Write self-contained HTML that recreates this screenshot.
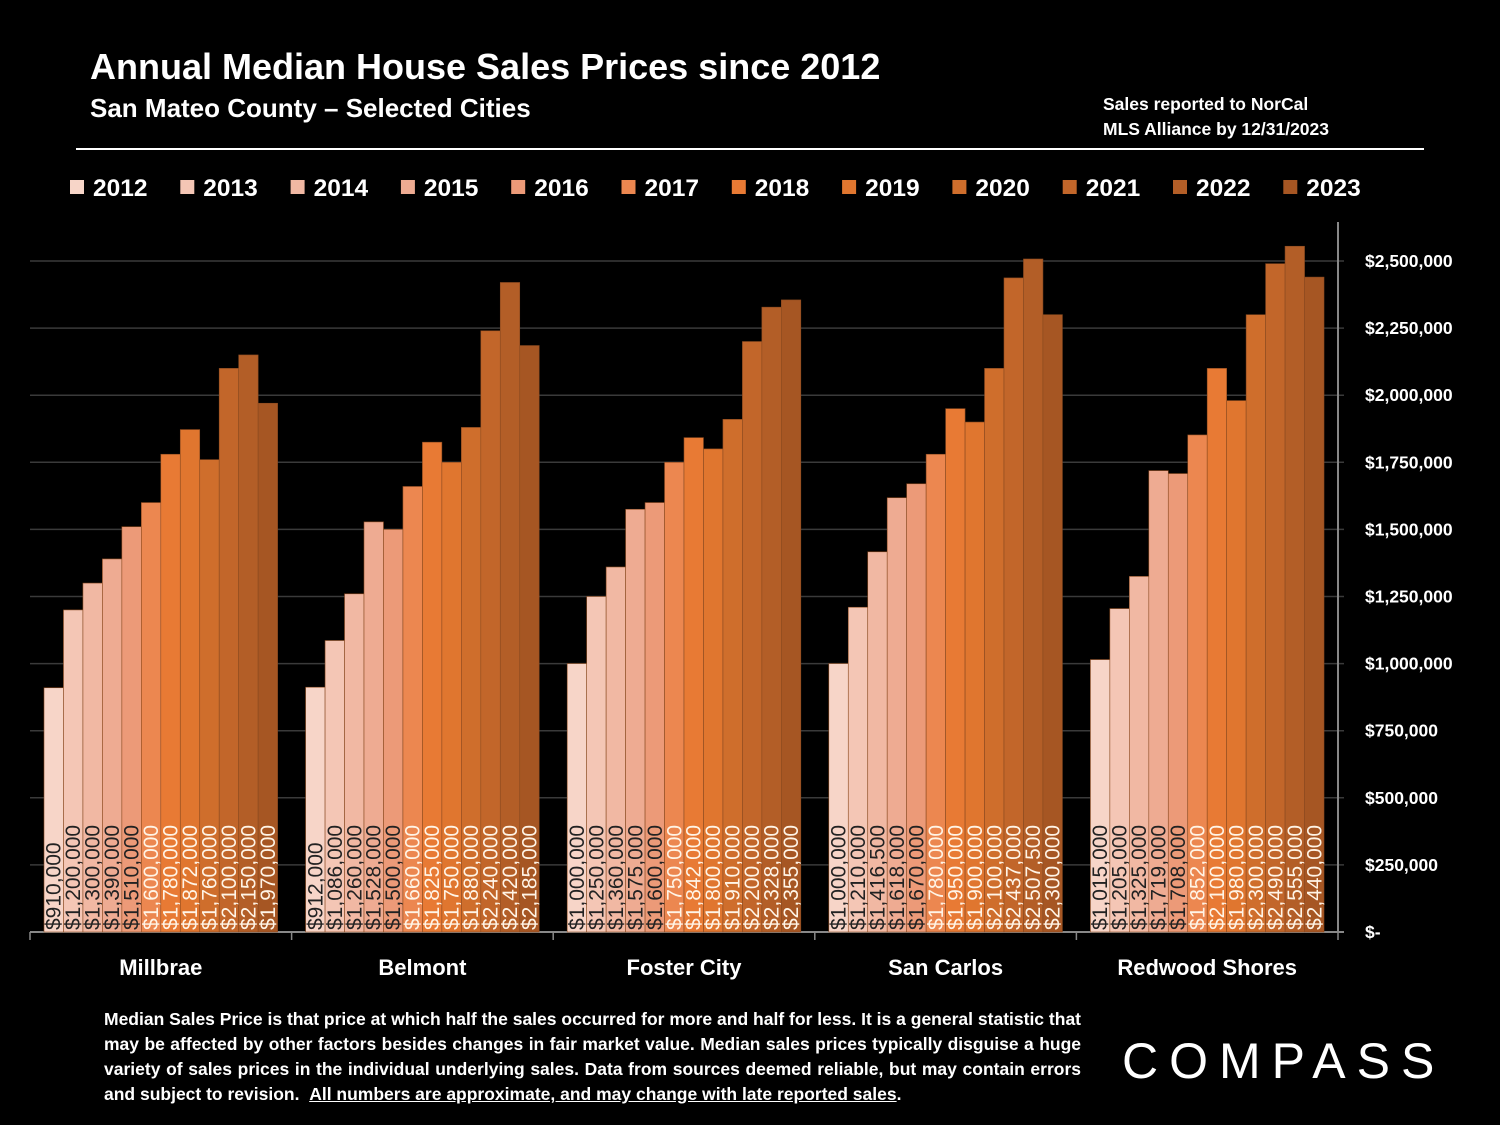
<!DOCTYPE html>
<html><head><meta charset="utf-8">
<style>
body{margin:0;background:#000;width:1500px;height:1125px;overflow:hidden;font-family:"Liberation Sans",sans-serif;color:#fff}
.t{position:absolute;font-weight:bold;white-space:nowrap}
</style></head><body>
<div class="t" style="left:90px;top:46px;font-size:36px">Annual Median House Sales Prices since 2012</div>
<div class="t" style="left:90px;top:93px;font-size:26px">San Mateo County – Selected Cities</div>
<div class="t" style="left:1103px;top:92px;font-size:17.5px;line-height:25px">Sales reported to NorCal<br>MLS Alliance by 12/31/2023</div>
<div style="position:absolute;left:76px;top:148px;width:1348px;height:2px;background:#fff"></div>
<div class="t" style="left:104px;top:1007px;width:977px;font-size:17.5px;line-height:25px;white-space:normal;text-align:justify">Median Sales Price is that price at which half the sales occurred for more and half for less. It is a general statistic that may be affected by other factors besides changes in fair market value. Median sales prices typically disguise a huge variety of sales prices in the individual underlying sales. Data from sources deemed reliable, but may contain errors and subject to revision. &nbsp;<u>All numbers are approximate, and may change with late reported sales</u>.</div>
<div class="t" style="left:1122px;top:1032px;font-size:50px;font-weight:normal;letter-spacing:11px">COMPASS</div>
<svg id="c" width="1500" height="1125" style="position:absolute;left:0;top:0"></svg>
<script>
const years=['2012','2013','2014','2015','2016','2017','2018','2019','2020','2021','2022','2023'];
const cities=['Millbrae','Belmont','Foster City','San Carlos','Redwood Shores'];
const millbrae=[910000,1200000,1300000,1390000,1510000,1600000,1780000,1872000,1760000,2100000,2150000,1970000];
const belmont=[912000,1086000,1260000,1528000,1500000,1660000,1825000,1750000,1880000,2240000,2420000,2185000];
const fosterCity=[1000000,1250000,1360000,1575000,1600000,1750000,1842000,1800000,1910000,2200000,2328000,2355000];
const sanCarlos=[1000000,1210000,1416500,1618000,1670000,1780000,1950000,1900000,2100000,2437000,2507500,2300000];
const redwoodShores=[1015000,1205000,1325000,1719000,1708000,1852000,2100000,1980000,2300000,2490000,2555000,2440000];
const yTicks=[0,250000,500000,750000,1000000,1250000,1500000,1750000,2000000,2250000,2500000];
const series=[millbrae,belmont,fosterCity,sanCarlos,redwoodShores];
const colors=['#f7d5c8','#f4c6b5','#f1b8a3','#eeab92','#ec9a78','#ec8750','#e87a34','#e0762f','#cf6e2c','#c2662a','#b35e27','#a65623'];
const svg=document.getElementById('c');const NS='http://www.w3.org/2000/svg';
const X0=30,X1=1338,Y0=932,Y1=261;
const y=v=>Y0-(v/2500000)*(Y0-Y1);
const gw=(X1-X0)/cities.length,pad=14,bw=(gw-2*pad)/years.length;
function el(t,a,p){const e=document.createElementNS(NS,t);for(const k in a)e.setAttribute(k,a[k]);(p||svg).appendChild(e);return e;}
yTicks.forEach(v=>{
 const g=el('line',{x1:X0,x2:X1+6,y1:y(v),y2:y(v),stroke:v?'#3a3a3a':'#888','stroke-width':v?1.5:2});
 
 
 const t=el('text',{x:1365,y:y(v)+6,fill:'#fff','font-size':17.5,'font-weight':'bold','font-family':'Liberation Sans'});
 t.textContent=v?'$'+v.toLocaleString('en-US'):'$-';
 
 
});
const ax=el('line',{x1:X1,x2:X1,y1:222,y2:Y0,stroke:'#888','stroke-width':2});


cities.forEach((c,ci)=>{
 const gx=X0+ci*gw;
 const tk=el('line',{x1:gx,x2:gx,y1:Y0,y2:940,stroke:'#888','stroke-width':1.5});
 
 
 series[ci].forEach((v,i)=>{
  const bx=gx+pad+i*bw;
  const r=el('rect',{x:bx,y:y(v),width:bw,height:Y0-y(v),fill:colors[i],stroke:'#8a4a20','stroke-width':0.6});
  
  
  const t=el('text',{x:0,y:0,fill:i<5?'#222':'#fff4e6','font-size':21,'font-family':'Liberation Sans',transform:`translate(${bx+bw/2+7},${Y0-2}) rotate(-90)`});
  t.textContent='$'+v.toLocaleString('en-US');
  
  
 });
 const l=el('text',{x:gx+gw/2,y:975,fill:'#fff','font-size':22,'font-weight':'bold','text-anchor':'middle','font-family':'Liberation Sans'});
 l.textContent=c;
 
 
});
const tk2=el('line',{x1:X1,x2:X1,y1:Y0,y2:940,stroke:'#888','stroke-width':1.5});


years.forEach((yr,i)=>{
 const lx=70+i*110.3;
 const s=el('rect',{x:lx,y:180,width:14,height:14,fill:colors[i]});
 
 
 const t=el('text',{x:lx+23,y:196,fill:'#fff','font-size':24.5,'font-weight':'bold','font-family':'Liberation Sans'});
 t.textContent=yr;
 
 
});
</script>
</body></html>
